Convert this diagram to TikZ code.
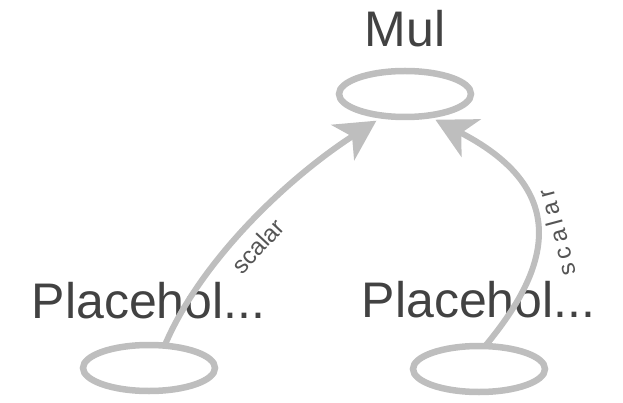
\documentclass[tikz,border=0pt]{standalone}
\usepackage{fontspec}
\setmainfont{Liberation Sans}
\usetikzlibrary{arrows.meta,shapes.geometric}
\definecolor{edgegray}{RGB}{190,190,190}
\definecolor{txtgray}{RGB}{66,66,66}
\definecolor{lblgray}{RGB}{85,85,85}
\tikzset{
  opnode/.style={ellipse, draw=edgegray, line width=6.5pt, minimum width=132pt, minimum height=46pt, inner sep=0pt, outer sep=0pt},
  title/.style={anchor=base, text=txtgray, font=\fontsize{50}{50}\selectfont, inner sep=0pt},
  conn/.style={draw=edgegray, line width=6pt, shorten >=9pt, -{Stealth[length=40pt,width=42pt,inset=11pt]}},
  elabel/.style={text=lblgray, font=\fontsize{24}{24}\selectfont, inner sep=0pt}
}
\begin{document}
\begin{tikzpicture}[x=1pt,y=-1pt]
\useasboundingbox (0,0) rectangle (623,403);
\node[opnode] (mul) at (405,94) {};
\node[opnode] (p1) at (149,368) {};
\node[opnode] (p2) at (479,369) {};
\node[title] (mult) at (405,47) {Mul};
\node[title] (p1t) at (148.5,318) {Placehol...};
\node[title] (p2t) at (478.5,317) {Placehol...};
\draw[conn] (p1.55) .. controls (200,262) and (285,180) .. (mul.-134);
\draw[conn] (p2.75) .. controls (540,280) and (582,195) .. (mul.-44);
\node[elabel, rotate=47] (l1) at (258,246) {scalar};
\node[elabel, rotate=105] (l2) at (557,233) {s\hspace{5pt}c\hspace{5pt}a\hspace{5pt}l\hspace{5pt}a\hspace{5pt}r};
\end{tikzpicture}
\end{document}
